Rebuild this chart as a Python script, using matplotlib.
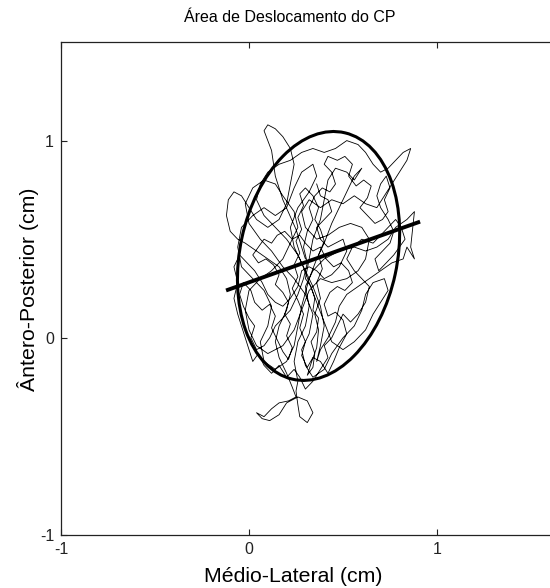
import numpy as np
import matplotlib
matplotlib.use("Agg")
import matplotlib.pyplot as plt
from matplotlib.patches import Ellipse

plt.rcParams['font.family'] = ['Liberation Sans', 'DejaVu Sans']
plt.rcParams['axes.unicode_minus'] = False

# CP trajectory (medio-lateral, antero-posterior) in cm
cop_path = [
    (0.30, 0.40), (0.25, 0.55), (0.18, 0.70), (0.14, 0.82), (0.12, 0.95), (0.08, 1.05),
    (0.10, 1.08), (0.14, 1.06), (0.18, 1.02), (0.22, 0.96), (0.24, 0.88), (0.22, 0.78),
    (0.20, 0.68), (0.16, 0.60), (0.10, 0.56), (0.04, 0.60), (0.00, 0.66), (-0.04, 0.72),
    (-0.08, 0.74), (-0.11, 0.70), (-0.12, 0.62), (-0.10, 0.54), (-0.06, 0.50), (-0.02, 0.48),
    (0.04, 0.44), (0.10, 0.40), (0.16, 0.36), (0.20, 0.30), (0.22, 0.22), (0.20, 0.14),
    (0.16, 0.06), (0.14, -0.02), (0.16, -0.10), (0.20, -0.18), (0.23, -0.25), (0.25, -0.30),
    (0.21, -0.32), (0.16, -0.33), (0.12, -0.36), (0.08, -0.40), (0.04, -0.38), (0.07, -0.41),
    (0.11, -0.42), (0.16, -0.39), (0.20, -0.33), (0.26, -0.30), (0.31, -0.32), (0.34, -0.38),
    (0.31, -0.43), (0.27, -0.40), (0.26, -0.34), (0.25, -0.27), (0.26, -0.22),
    (0.24, -0.12), (0.26, -0.02), (0.30, 0.06), (0.32, 0.16), (0.30, 0.26), (0.34, 0.34),
    (0.40, 0.40), (0.48, 0.44), (0.56, 0.46), (0.62, 0.44), (0.68, 0.46), (0.74, 0.50),
    (0.78, 0.56), (0.84, 0.60), (0.88, 0.64), (0.87, 0.55), (0.86, 0.46), (0.88, 0.40),
    (0.84, 0.46), (0.82, 0.40), (0.76, 0.38), (0.70, 0.34), (0.64, 0.30), (0.58, 0.26),
    (0.52, 0.22), (0.48, 0.16), (0.46, 0.08), (0.42, 0.00), (0.38, -0.06), (0.36, -0.12),
    (0.38, -0.04), (0.40, 0.06), (0.38, 0.16), (0.34, 0.26), (0.30, 0.34), (0.26, 0.42),
    (0.20, 0.50), (0.14, 0.56), (0.08, 0.62), (0.04, 0.70), (0.06, 0.78), (0.10, 0.84),
    (0.16, 0.88), (0.22, 0.90), (0.28, 0.94), (0.34, 0.96), (0.40, 0.94), (0.46, 0.96),
    (0.52, 1.00), (0.58, 0.98), (0.62, 0.94), (0.66, 0.88), (0.70, 0.84), (0.74, 0.86),
    (0.78, 0.90), (0.82, 0.94), (0.86, 0.96), (0.84, 0.90), (0.80, 0.84), (0.76, 0.78),
    (0.72, 0.72), (0.68, 0.66), (0.62, 0.68), (0.56, 0.72), (0.50, 0.68), (0.44, 0.70),
    (0.38, 0.66), (0.32, 0.70), (0.28, 0.64), (0.30, 0.56), (0.36, 0.50), (0.42, 0.52),
    (0.48, 0.56), (0.54, 0.58), (0.60, 0.56), (0.64, 0.50), (0.62, 0.40), (0.58, 0.34),
    (0.52, 0.30), (0.44, 0.28), (0.38, 0.30), (0.32, 0.24), (0.28, 0.14), (0.24, 0.04),
    (0.18, -0.04), (0.10, -0.08), (0.04, -0.04), (0.00, 0.04), (-0.02, 0.14), (0.00, 0.24),
    (0.06, 0.30), (0.12, 0.34), (0.18, 0.40), (0.22, 0.48), (0.26, 0.56), (0.24, 0.64),
    (0.18, 0.72), (0.14, 0.78), (0.08, 0.80), (0.02, 0.76), (-0.02, 0.68), (0.00, 0.58),
    (0.06, 0.50), (0.12, 0.44), (0.18, 0.36), (0.24, 0.30), (0.30, 0.22), (0.34, 0.12),
    (0.32, 0.02), (0.28, -0.06), (0.30, -0.14), (0.34, -0.20), (0.40, -0.16), (0.44, -0.08),
    (0.50, 0.00), (0.56, 0.06), (0.60, 0.14), (0.62, 0.22), (0.66, 0.28), (0.72, 0.30),
    (0.74, 0.24), (0.70, 0.18), (0.66, 0.12), (0.62, 0.04), (0.56, -0.02), (0.50, -0.06),
    (0.44, -0.02), (0.40, 0.08), (0.36, 0.18), (0.32, 0.28), (0.28, 0.38), (0.24, 0.46),
    (0.22, 0.56), (0.26, 0.66), (0.32, 0.74), (0.36, 0.82), (0.34, 0.88), (0.28, 0.84),
    (0.24, 0.76), (0.20, 0.66), (0.14, 0.62), (0.08, 0.66), (0.02, 0.62), (-0.04, 0.56),
    (-0.06, 0.46), (-0.04, 0.36), (0.02, 0.30), (0.08, 0.24), (0.12, 0.16), (0.10, 0.06),
    (0.06, -0.02), (0.08, -0.12), (0.14, -0.16), (0.20, -0.12), (0.24, -0.04), (0.26, 0.06),
    (0.28, 0.16), (0.32, 0.30), (0.36, 0.40), (0.40, 0.48), (0.44, 0.58), (0.48, 0.66),
    (0.52, 0.74), (0.56, 0.82), (0.60, 0.86), (0.56, 0.80), (0.52, 0.84), (0.46, 0.86),
    (0.42, 0.80), (0.40, 0.70), (0.38, 0.60), (0.34, 0.50), (0.32, 0.40), (0.30, 0.30),
    (0.33, 0.26), (0.35, 0.20), (0.34, 0.14), (0.37, 0.10), (0.36, 0.03), (0.33, -0.02),
    (0.35, -0.08), (0.34, -0.15), (0.31, -0.19), (0.33, -0.13), (0.36, -0.05), (0.37, 0.04),
    (0.35, 0.12), (0.38, 0.20), (0.36, 0.28), (0.39, 0.35), (0.37, 0.42), (0.40, 0.49),
    (0.38, 0.55), (0.35, 0.60), (0.37, 0.66), (0.34, 0.72), (0.30, 0.76), (0.27, 0.73),
    (0.29, 0.67), (0.26, 0.61), (0.28, 0.55), (0.25, 0.49), (0.27, 0.43), (0.24, 0.37),
    (0.26, 0.31), (0.23, 0.25), (0.26, 0.19), (0.29, 0.12), (0.27, 0.05), (0.30, -0.02),
    (0.28, -0.09), (0.31, -0.15), (0.34, -0.10), (0.38, -0.12), (0.42, -0.18), (0.45, -0.12),
    (0.48, -0.05), (0.52, 0.02), (0.50, 0.09), (0.46, 0.13), (0.42, 0.11), (0.40, 0.17),
    (0.43, 0.23), (0.47, 0.26), (0.51, 0.24), (0.55, 0.28), (0.53, 0.34), (0.49, 0.38),
    (0.45, 0.36), (0.41, 0.40), (0.38, 0.46), (0.34, 0.44), (0.30, 0.48), (0.27, 0.52),
    (0.23, 0.50), (0.19, 0.54), (0.15, 0.52), (0.12, 0.48), (0.08, 0.50), (0.05, 0.46),
    (0.02, 0.42), (0.05, 0.38), (0.09, 0.40), (0.13, 0.37), (0.16, 0.32), (0.14, 0.27),
    (0.18, 0.23), (0.21, 0.18), (0.19, 0.12), (0.22, 0.07), (0.20, 0.01), (0.23, -0.05),
    (0.21, -0.11), (0.18, -0.07), (0.15, -0.01), (0.12, 0.05), (0.14, 0.11), (0.11, 0.17),
    (0.07, 0.14), (0.03, 0.18), (0.01, 0.24), (-0.03, 0.28), (-0.05, 0.22), (-0.03, 0.16),
    (0.00, 0.10), (0.03, 0.06), (0.01, 0.00), (0.04, -0.06), (0.08, -0.04), (0.11, 0.00),
    (0.14, 0.06), (0.18, 0.10), (0.22, 0.14), (0.26, 0.22), (0.29, 0.30), (0.31, 0.38),
    (0.29, 0.46), (0.31, 0.54), (0.34, 0.60), (0.32, 0.66), (0.35, 0.72), (0.39, 0.76),
    (0.43, 0.74), (0.46, 0.78), (0.44, 0.84), (0.40, 0.88), (0.42, 0.92), (0.47, 0.90),
    (0.51, 0.92), (0.55, 0.88), (0.53, 0.82), (0.57, 0.77), (0.61, 0.80), (0.65, 0.77),
    (0.63, 0.71), (0.59, 0.66), (0.63, 0.62), (0.67, 0.58), (0.71, 0.60), (0.74, 0.64),
    (0.72, 0.70), (0.75, 0.76), (0.73, 0.82), (0.70, 0.78), (0.68, 0.72), (0.70, 0.66),
    (0.74, 0.60), (0.77, 0.54), (0.75, 0.48), (0.71, 0.44), (0.67, 0.40), (0.69, 0.34),
    (0.73, 0.38), (0.77, 0.42), (0.80, 0.46), (0.83, 0.50), (0.81, 0.56), (0.78, 0.60),
    (0.74, 0.56), (0.70, 0.52), (0.66, 0.48), (0.60, 0.50), (0.55, 0.46), (0.52, 0.40),
    (0.56, 0.34), (0.60, 0.30), (0.64, 0.26), (0.62, 0.18), (0.58, 0.12), (0.54, 0.08),
    (0.50, 0.12), (0.47, 0.06), (0.44, 0.00), (0.40, -0.04), (0.42, -0.10), (0.38, -0.16),
    (0.34, -0.22), (0.30, -0.26), (0.27, -0.20), (0.24, -0.16), (0.20, -0.20), (0.16, -0.14),
    (0.12, -0.18), (0.08, -0.14), (0.05, -0.08), (0.02, -0.12), (0.00, -0.06), (-0.02, 0.00),
    (-0.04, 0.06), (-0.06, 0.12), (-0.08, 0.20), (-0.06, 0.28), (-0.08, 0.36), (-0.05, 0.42),
    (-0.01, 0.38), (0.03, 0.34), (0.07, 0.28), (0.10, 0.22), (0.14, 0.18), (0.18, 0.16),
    (0.22, 0.20), (0.26, 0.26), (0.28, 0.34), (0.32, 0.36), (0.36, 0.34), (0.40, 0.30),
    (0.44, 0.32), (0.48, 0.36), (0.52, 0.44), (0.50, 0.50), (0.46, 0.48), (0.42, 0.46),
    (0.38, 0.50), (0.36, 0.56), (0.40, 0.60), (0.44, 0.64), (0.42, 0.70), (0.38, 0.72),
    (0.36, 0.78),
]
cop_ml = [p[0] for p in cop_path]
cop_ap = [p[1] for p in cop_path]

# fitted ellipse: center, full axis lengths (cm), angle (deg)
ell_center = (0.37, 0.415)
ell_width = 1.28
ell_height = 0.836
ell_angle = 77.3

# principal direction line ends
axis_ml = [-0.122, 0.910]
axis_ap = [0.240, 0.589]

fig = plt.figure(figsize=(5.5, 5.88), dpi=100)
ax = fig.add_axes([61 / 550, 53 / 588, 3 * 188 / 550, 493 / 588])

ax.plot(cop_ml, cop_ap, color="black", lw=0.6)
ax.add_patch(Ellipse(ell_center, ell_width, ell_height, angle=ell_angle,
                     fill=False, edgecolor="black", lw=2.2))
ax.plot(axis_ml, axis_ap, color="black", lw=2.8, solid_capstyle="butt")

ax.set_xlim(-1, 2)
ax.set_ylim(-1, 1.5)
ax.set_xticks([-1, 0, 1])
ax.set_yticks([-1, 0, 1])
ax.tick_params(direction="in", length=4, width=0.8, top=True, right=True,
               labelsize=11.5, pad=5, colors="#222222")
for s in ax.spines.values():
    s.set_linewidth(0.9)
    s.set_color("#222222")

fig.text(290 / 550, 1 - 17 / 588, "Área de Deslocamento do CP",
         ha="center", va="center", fontsize=11.5)
fig.text(293 / 550, 1 - 576 / 588, "Médio-Lateral (cm)",
         ha="center", va="center", fontsize=15.3)
fig.text(28 / 550, 1 - 289 / 588, "Ântero-Posterior (cm)",
         ha="center", va="center", rotation=90, fontsize=15.3)

fig.savefig("out.png", dpi=100)
